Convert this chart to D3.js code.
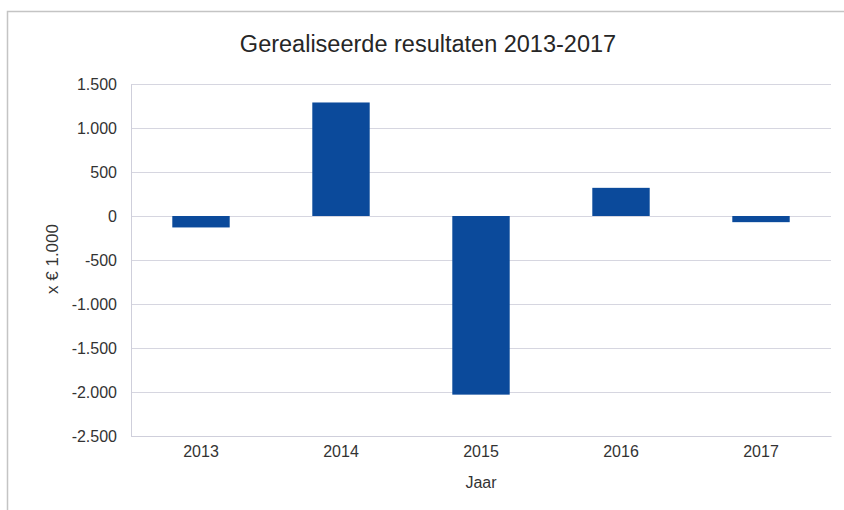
<!DOCTYPE html>
<html lang="nl">
<head>
  <meta charset="UTF-8">
  <title>Gerealiseerde resultaten</title>
  <script src="https://d3js.org/d3.v7.min.js"></script>
  <style>
    * { margin: 0; padding: 0; box-sizing: border-box; }
    body { background: #fff; font-family: "Liberation Sans", Arial, sans-serif; }
    svg text { fill: #333; }
  </style>
</head>
<body>
  <div id="chart"></div>
  <script>
    // gegevens
    const jaren = ["2013", "2014", "2015", "2016", "2017"];
    const resultaat = [-130, 1290, -2030, 320, -70];
    const yTicks = [1500, 1000, 500, 0, -500, -1000, -1500, -2000, -2500];

    const W = 844, H = 510;
    const margin = {top: 84, right: 13, bottom: 74, left: 131};
    const width = W - margin.left - margin.right,
          height = H - margin.top - margin.bottom;

    const root = d3.select("#chart").append("svg")
      .attr("width", W).attr("height", H);

    // kader
    root.append("path")
      .attr("d", `M7.5,${H} V11.5 H${W}`)
      .attr("fill", "none")
      .attr("stroke", "#c4c4c4")
      .attr("stroke-width", 1.5);

    const svg = root.append("g")
      .attr("transform", `translate(${margin.left},${margin.top})`);

    const x = d3.scaleBand()
      .domain(jaren)
      .range([0, width])
      .paddingInner(0.59)
      .paddingOuter(0.295);

    const y = d3.scaleLinear()
      .domain([-2500, 1500])
      .range([height, 0]);

    const fmt = d => d3.format(",")(d).replace(/,/g, ".").replace("−", "-");

    // rasterlijnen
    svg.append("g")
      .call(d3.axisLeft(y).tickValues(yTicks).tickSize(-width).tickFormat(""))
      .call(g => g.select(".domain").remove())
      .selectAll("line")
      .attr("stroke", "#d6d6e0");

    // y-as
    svg.append("g")
      .call(d3.axisLeft(y).tickValues(yTicks).tickSize(0).tickPadding(14).tickFormat(fmt))
      .call(g => g.select(".domain").attr("stroke", "#cfcfdb"))
      .call(g => g.selectAll("text")
        .style("font-size", "16px")
        .style("font-family", "'Liberation Sans', Arial, sans-serif")
        .attr("fill", "#333"));

    // x-as
    svg.append("g")
      .attr("transform", `translate(0,${height})`)
      .call(d3.axisBottom(x).tickSize(0).tickPadding(10))
      .call(g => g.select(".domain").attr("stroke", "#cfcfdb"))
      .call(g => g.selectAll("text")
        .style("font-size", "16px")
        .style("font-family", "'Liberation Sans', Arial, sans-serif")
        .attr("fill", "#333"));

    // staven
    svg.selectAll(".bar")
      .data(jaren.map((j, i) => ({jaar: j, waarde: resultaat[i]})))
      .enter()
      .append("rect")
      .attr("class", "bar")
      .attr("x", d => x(d.jaar))
      .attr("width", x.bandwidth())
      .attr("y", d => y(Math.max(0, d.waarde)))
      .attr("height", d => Math.abs(y(d.waarde) - y(0)))
      .attr("fill", "#0b4a9b");

    // titel
    root.append("text")
      .attr("x", 428)
      .attr("y", 52)
      .attr("text-anchor", "middle")
      .style("font-size", "23.5px")
      .style("fill", "#262626")
      .text("Gerealiseerde resultaten 2013-2017");

    // astitels
    root.append("text")
      .attr("x", margin.left + width / 2)
      .attr("y", 488)
      .attr("text-anchor", "middle")
      .style("font-size", "16px")
      .text("Jaar");

    root.append("text")
      .attr("transform", "translate(58,259) rotate(-90)")
      .attr("text-anchor", "middle")
      .style("font-size", "17px")
      .text("x € 1.000");
  </script>
</body>
</html>
